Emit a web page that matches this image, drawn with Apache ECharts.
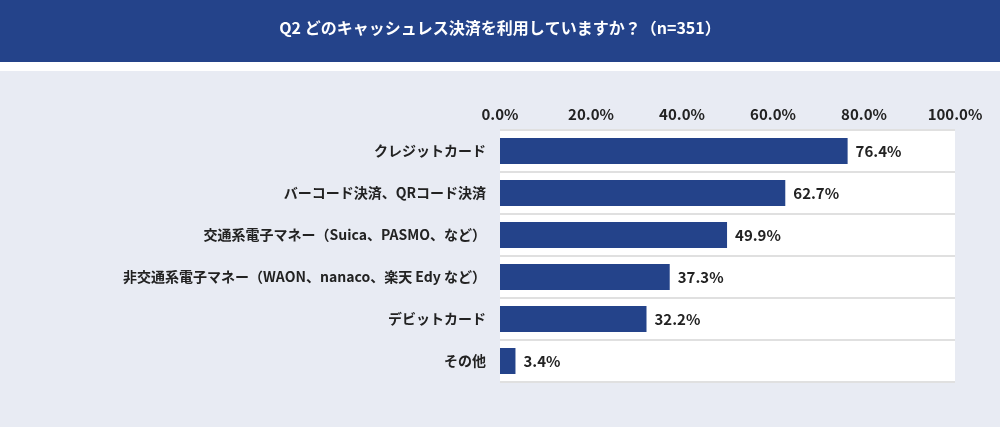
<!DOCTYPE html>
<html lang="ja">
<head>
<meta charset="UTF-8">
<title>chart</title>
<script src="https://cdn.jsdelivr.net/npm/echarts@6/dist/echarts.min.js"></script>
<style>html,body{margin:0;padding:0;background:#e8ebf3;}</style>
</head>
<body>
<div id="myChart" style="width:1000px;height:427px;"></div>
<script>
var titleText = 'Q2 どのキャッシュレス決済を利用していますか？（n=351）';
var categories = ['クレジットカード', 'バーコード決済、QRコード決済', '交通系電子マネー（Suica、PASMO、など）',
    '非交通系電子マネー（WAON、nanaco、楽天 Edy など）', 'デビットカード', 'その他'];
var values = [76.4, 62.7, 49.9, 37.3, 32.2, 3.4];

var fontFam = '"Noto Sans CJK JP", "Noto Sans", sans-serif';
var myChart = echarts.init(document.getElementById('myChart'));
myChart.setOption({
    backgroundColor: '#e8ebf3',
    textStyle: {fontFamily: fontFam},
    graphic: [
        {type: 'rect', left: 0, top: 0, shape: {width: 1000, height: 62}, style: {fill: '#24438a'}},
        {type: 'rect', left: 0, top: 62, shape: {width: 1000, height: 9}, style: {fill: '#ffffff'}},
        {type: 'rect', left: 500, top: 130, shape: {width: 455, height: 252}, style: {fill: '#ffffff'}, z: -1},
        {type: 'text', left: 'center', top: 20, style: {text: titleText, fill: '#fff', font: 'bold 16px ' + fontFam}}
    ],
    grid: {left: 500, right: 45, top: 130, bottom: 45, containLabel: false},
    xAxis: {
        type: 'value', position: 'top', min: 0, max: 100, interval: 20,
        axisLabel: {formatter: function (v) { return v.toFixed(1) + '%'; }, color: '#222', fontSize: 15, fontWeight: 'bold', margin: 8},
        axisLine: {show: false}, axisTick: {show: false}, splitLine: {show: false}
    },
    yAxis: {
        type: 'category', data: categories, inverse: true,
        axisLabel: {color: '#222', fontSize: 14, fontWeight: 'bold', margin: 14},
        axisLine: {show: false}, axisTick: {show: false},
        splitLine: {show: true, lineStyle: {color: '#e0e0e0', width: 2}}
    },
    series: [{
        type: 'bar', data: values, barWidth: 26,
        itemStyle: {color: '#24438a'},
        label: {show: true, position: 'right', distance: 8, color: '#222', fontSize: 15, fontWeight: 'bold',
            formatter: function (p) { return p.value.toFixed(1) + '%'; }}
    }]
});
</script>
</body>
</html>
